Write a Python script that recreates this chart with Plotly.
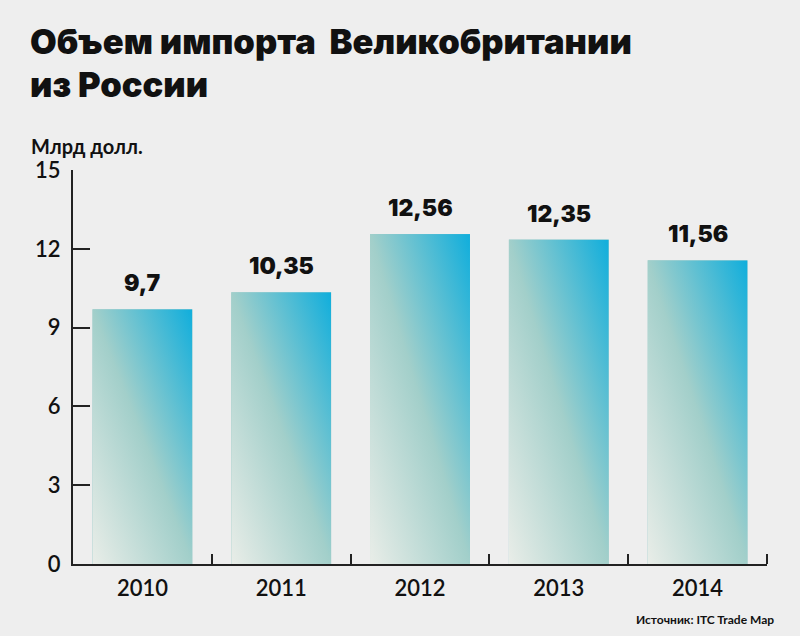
import base64
import plotly.graph_objects as go

years = ["2010", "2011", "2012", "2013", "2014"]
imports_bn = [9.7, 10.35, 12.56, 12.35, 11.56]
value_labels = ["9,7", "10,35", "12,56", "12,35", "11,56"]
y_ticks = [0, 3, 6, 9, 12, 15]
title_lines = ["Объем импорта\u00a0 Великобритании", "из России"]

BG = "#eeeeee"
INK = "#111111"
FONT = "Lato"
HEAVY = "Inter, Lato"

# diagonal gradient used to paint each bar (bottom-left light -> top-right cyan)
svg = (
    "<svg xmlns='http://www.w3.org/2000/svg' width='100' height='400' "
    "viewBox='0 0 100 400' preserveAspectRatio='none'>"
    "<defs><linearGradient id='g' x1='0' y1='1' x2='1' y2='0'>"
    "<stop offset='0' stop-color='#e9ede8'/>"
    "<stop offset='0.5' stop-color='#a2cfca'/>"
    "<stop offset='1' stop-color='#10aedc'/>"
    "</linearGradient></defs>"
    "<rect width='100' height='400' fill='url(#g)'/></svg>"
)
grad_src = "data:image/svg+xml;base64," + base64.b64encode(svg.encode()).decode()

bar_width = 0.72

L, R, T, B = 73, 33, 170, 72
W, H = 800, 636


def px_x(x):
    return (x - L) / (W - L - R)


def px_y(y):
    return 1 - (y - T) / (H - T - B)


fig = go.Figure()
fig.add_trace(go.Bar(
    x=list(range(len(years))),
    y=imports_bn,
    width=bar_width,
    marker=dict(color="#9ccbc9", line=dict(width=0)),
    hoverinfo="y",
))

images = []
annotations = []
for i, v in enumerate(imports_bn):
    images.append(dict(
        source=grad_src, xref="x", yref="y",
        x=i, y=v, sizex=bar_width, sizey=v,
        xanchor="center", yanchor="top",
        sizing="stretch", layer="above",
    ))
    annotations.append(dict(
        x=i, y=v, xref="x", yref="y", text=value_labels[i],
        showarrow=False, yanchor="bottom", yshift=10,
        font=dict(family=HEAVY, size=23, color=INK, weight=900),
    ))

for line, yc in zip(title_lines, [42, 85]):
    annotations.append(dict(
        x=px_x(28), y=px_y(yc), xref="paper", yref="paper", text=line,
        showarrow=False, xanchor="left", yanchor="middle",
        font=dict(family=HEAVY, size=34.5, color=INK, weight=900),
    ))

annotations.append(dict(
    x=px_x(29), y=px_y(146), xref="paper", yref="paper", text="Млрд долл.",
    showarrow=False, xanchor="left", yanchor="middle",
    font=dict(family=FONT, size=20, color=INK, weight=700),
))
annotations.append(dict(
    x=px_x(776), y=px_y(619), xref="paper", yref="paper", text="Источник: ITC Trade Map",
    showarrow=False, xanchor="right", yanchor="middle",
    font=dict(family=FONT, size=12, color=INK, weight=700),
))

fig.update_layout(
    width=W, height=H,
    paper_bgcolor=BG, plot_bgcolor=BG,
    margin=dict(l=L, r=R, t=T, b=B),
    showlegend=False,
    images=images,
    annotations=annotations,
    bargap=1 - bar_width,
)

fig.update_xaxes(
    range=[-0.5, len(years) - 0.5],
    tickmode="array",
    tickvals=list(range(len(years))),
    ticktext=years,
    ticks="",
    showline=True, linecolor="#222222", linewidth=2,
    showgrid=False, zeroline=False,
    ticklabelstandoff=4,
    tickfont=dict(family=FONT, size=22, color=INK, weight=600),
    minor=dict(
        tickmode="array",
        tickvals=[i + 0.5 for i in range(len(years))],
        ticks="inside", ticklen=10, tickwidth=2, tickcolor="#222222",
        showgrid=False,
    ),
)
fig.update_yaxes(
    range=[0, 15],
    tickvals=y_ticks,
    ticks="inside", ticklen=17, tickwidth=2, tickcolor="#222222",
    showline=True, linecolor="#222222", linewidth=2,
    showgrid=False, zeroline=False,
    ticklabelstandoff=6,
    tickfont=dict(family=FONT, size=22, color=INK, weight=600),
)

fig.write_html(
    "out.html",
    config={"displayModeBar": False},
    post_script="document.body.style.margin='0';",
)
